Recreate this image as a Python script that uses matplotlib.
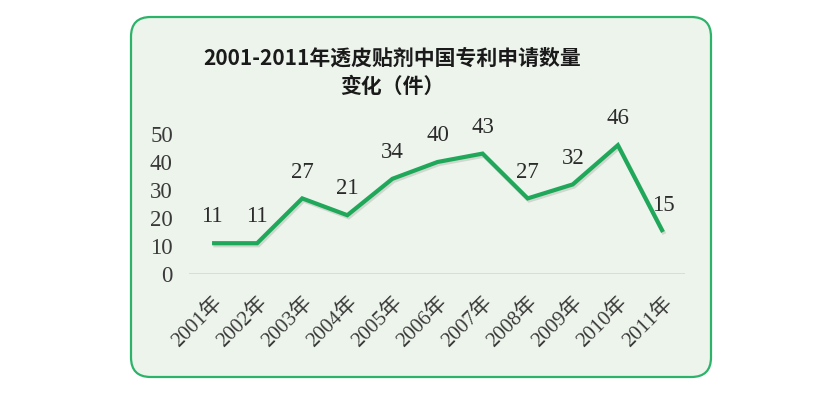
import matplotlib
matplotlib.use("Agg")
import matplotlib.pyplot as plt
from matplotlib.patches import FancyBboxPatch
import matplotlib.patheffects as pe

# data
years = ["2001年", "2002年", "2003年", "2004年", "2005年", "2006年",
         "2007年", "2008年", "2009年", "2010年", "2011年"]
counts = [11, 11, 27, 21, 34, 40, 43, 27, 32, 46, 15]
y_ticks = [0, 10, 20, 30, 40, 50]

title = "2001-2011年透皮贴剂中国专利申请数量\n变化（件）"

W, H = 820, 395
fig = plt.figure(figsize=(W / 100, H / 100), dpi=100)
fig.patch.set_facecolor("white")

# rounded green card behind the chart
card = FancyBboxPatch((131 / W, 1 - 377 / H), 580 / W, 360 / H,
                      boxstyle="round,pad=0,rounding_size=0.024",
                      transform=fig.transFigure, facecolor="#edf4ec",
                      edgecolor="#2cb36a", linewidth=1.6,
                      mutation_aspect=W / H, zorder=-5)
fig.patches.append(card)

fig.text(392 / W, 1 - 72 / H, title, ha="center", va="center",
         fontsize=15, fontweight="bold", linespacing=1.45,
         family=["Noto Sans CJK SC", "DejaVu Sans"], color="#1a1a1a")

ax = fig.add_axes([189.5 / W, 1 - 274 / H, 496 / W, 140 / H])
ax.set_facecolor("none")
x = range(len(years))
ax.plot(x, counts, color="#1fa85a", linewidth=3.0, solid_joinstyle="miter",
        solid_capstyle="butt", zorder=3, clip_on=False,
        path_effects=[pe.SimpleLineShadow(offset=(1, -1.5), shadow_color="#8a948a", alpha=0.3),
                      pe.Normal()])

serif = ["Liberation Serif", "Noto Sans CJK SC"]
for xi, v in zip(x, counts):
    ax.annotate(str(v), (xi, v), xytext=(0, 19), textcoords="offset points",
                ha="center", va="center", fontsize=16.5, family=serif,
                color="#2b2b2b")

ax.axhline(0, color="#d6d9d6", linewidth=1.2, zorder=1)
ax.set_xlim(-0.5, len(years) - 0.5)
ax.set_ylim(0, 50)
ax.set_yticks(y_ticks)
ax.set_yticklabels([str(t) for t in y_ticks], family=serif, fontsize=16.5,
                   color="#3a3a3a")
ax.set_xticks(list(x))
ax.set_xticklabels(years, rotation=45, ha="right", va="top",
                   rotation_mode="anchor", family=serif, fontsize=15,
                   color="#3a3a3a")
ax.tick_params(axis="both", length=0)
ax.tick_params(axis="y", pad=12)
ax.tick_params(axis="x", pad=14)
for s in ax.spines.values():
    s.set_visible(False)

fig.savefig("out.png", dpi=100, facecolor="white")
